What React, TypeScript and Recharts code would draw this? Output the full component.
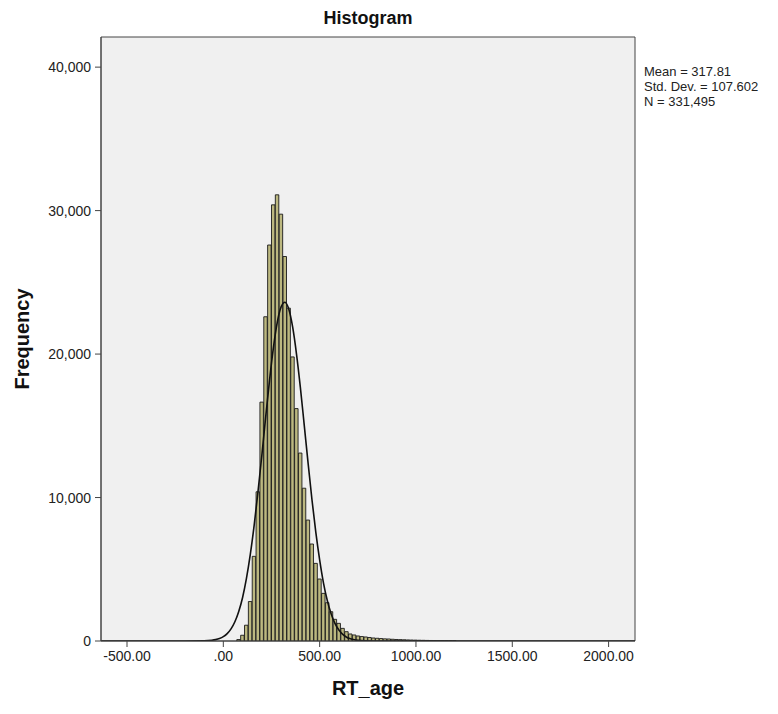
import React from "react";
import {
  ComposedChart,
  Bar,
  Line,
  XAxis,
  YAxis,
  CartesianGrid,
  ReferenceArea,
} from "recharts";

// histogram bins (midpoints, width 20 ms) and counts
const binMids = [
  80, 100, 120, 140, 160, 180, 200, 220, 240, 260, 280, 300, 320, 340, 360, 380,
  400, 420, 440, 460, 480, 500, 520, 540, 560, 580, 600, 620, 640, 660, 680, 700,
  720, 740, 760, 780, 800, 820, 840, 860, 880, 900, 920, 940, 960, 980, 1000,
  1020, 1040, 1060, 1080, 1100, 1120, 1140, 1160, 1180, 1200,
];
const binCounts = [
  100, 400, 1100, 2750, 5900, 10400, 16650, 22600, 27600, 30400, 31100, 29750,
  26800, 23200, 19800, 16200, 13100, 10650, 8430, 6760, 5410, 4320, 3320, 2670,
  2040, 1510, 1230, 880, 650, 490, 420, 350, 310, 280, 245, 210, 190, 170, 150,
  140, 120, 105, 95, 85, 75, 68, 60, 52, 46, 40, 35, 30, 26, 22, 19, 16, 14,
];

const curveX = [
  -640, -300, -200, -100, -60, -40, -20, 0, 20, 40, 60, 80, 100, 120, 140, 160,
  180, 200, 220, 240, 260, 280, 300, 320, 340, 360, 380, 400, 420, 440, 460, 480,
  500, 520, 540, 560, 580, 600, 620, 640, 660, 680, 700, 740, 780, 820, 900,
  1200, 2140,
];
const curveY = [
  0, 0, 0, 12, 50, 94, 171, 300, 513, 844, 1339, 2055, 3035, 4363, 6033, 8064,
  10412, 12945, 15630, 18187, 20448, 22210, 23290, 23615, 23123, 21870, 19985,
  17665, 15045, 12396, 9864, 7583, 5652, 4040, 2801, 1875, 1212, 761, 457, 266,
  150, 82, 43, 11, 2, 0, 0, 0, 0,
];

const xTicks = [-500, 0, 500, 1000, 1500, 2000];
const yTicks = [0, 10000, 20000, 30000, 40000];
const stats = ["Mean = 317.81", "Std. Dev. = 107.602", "N = 331,495"];

const X_DOMAIN: [number, number] = [-635, 2137];
const Y_DOMAIN: [number, number] = [0, 42100];
const BIN_WIDTH = 20;

const W = 778;
const H = 714;
const LEFT = 101;
const RIGHT = 143;
const TOP = 37;
const BOTTOM = 73;
const PLOT_W = W - LEFT - RIGHT;

const FONT = "Arial, 'Liberation Sans', sans-serif";
const INK = "#222";
const AXIS = "#444";

const bins = binMids.map((x, i) => ({ x, count: binCounts[i] }));
const curve = curveX.map((x, i) => ({ x, y: curveY[i] }));

const barSize = (BIN_WIDTH * PLOT_W) / (X_DOMAIN[1] - X_DOMAIN[0]);

const fmtX = (v: number) => (v === 0 ? ".00" : v.toFixed(2));
const fmtY = (v: number) => v.toLocaleString("en-US");

export default function App() {
  return (
    <div style={{ position: "absolute", left: 0, top: 0, width: W, height: H, fontFamily: FONT, background: "#fff" }}>
      <ComposedChart
        width={W}
        height={H}
        data={bins}
        margin={{ top: TOP, right: RIGHT, bottom: 0, left: 0 }}
      >
        <CartesianGrid fill="#f0f0f0" horizontal={false} vertical={false} />
        <XAxis
          dataKey="x"
          type="number"
          domain={X_DOMAIN}
          ticks={xTicks}
          allowDataOverflow
          height={BOTTOM}
          tickFormatter={fmtX}
          tickSize={6}
          tickMargin={4}
          stroke={AXIS}
          tick={{ fill: INK, fontSize: 14, fontFamily: FONT }}
        />
        <YAxis
          type="number"
          domain={Y_DOMAIN}
          ticks={yTicks}
          allowDataOverflow
          width={LEFT}
          tickFormatter={fmtY}
          tickSize={6}
          tickMargin={4}
          stroke={AXIS}
          tick={{ fill: INK, fontSize: 14, fontFamily: FONT }}
        />
        <Bar
          dataKey="count"
          barSize={barSize}
          fill="#bcb880"
          stroke="#1a1a1a"
          strokeWidth={0.9}
          isAnimationActive={false}
        />
        <Line
          data={curve}
          dataKey="y"
          type="monotone"
          stroke="#111"
          strokeWidth={1.6}
          dot={false}
          activeDot={false}
          isAnimationActive={false}
        />
        <ReferenceArea
          x1={X_DOMAIN[0]}
          x2={X_DOMAIN[1]}
          y1={Y_DOMAIN[0]}
          y2={Y_DOMAIN[1]}
          fill="none"
          stroke={AXIS}
          strokeWidth={1}
          ifOverflow="visible"
        />
      </ComposedChart>

      <div style={{ position: "absolute", left: LEFT, width: PLOT_W, top: 8, textAlign: "center", fontWeight: "bold", fontSize: 18, color: "#111" }}>
        Histogram
      </div>
      <div
        style={{
          position: "absolute",
          left: 22,
          top: (TOP + H - BOTTOM) / 2,
          transform: "translate(-50%, -50%) rotate(-90deg)",
          fontWeight: "bold",
          fontSize: 20,
          color: "#111",
          whiteSpace: "nowrap",
        }}
      >
        Frequency
      </div>
      <div style={{ position: "absolute", left: LEFT, width: PLOT_W, top: 677, textAlign: "center", fontWeight: "bold", fontSize: 20, color: "#111" }}>
        RT_age
      </div>
      <div style={{ position: "absolute", left: 644, top: 64, fontSize: 13, lineHeight: "15px", color: INK, whiteSpace: "nowrap" }}>
        {stats.map((s) => (
          <div key={s}>{s}</div>
        ))}
      </div>
    </div>
  );
}
